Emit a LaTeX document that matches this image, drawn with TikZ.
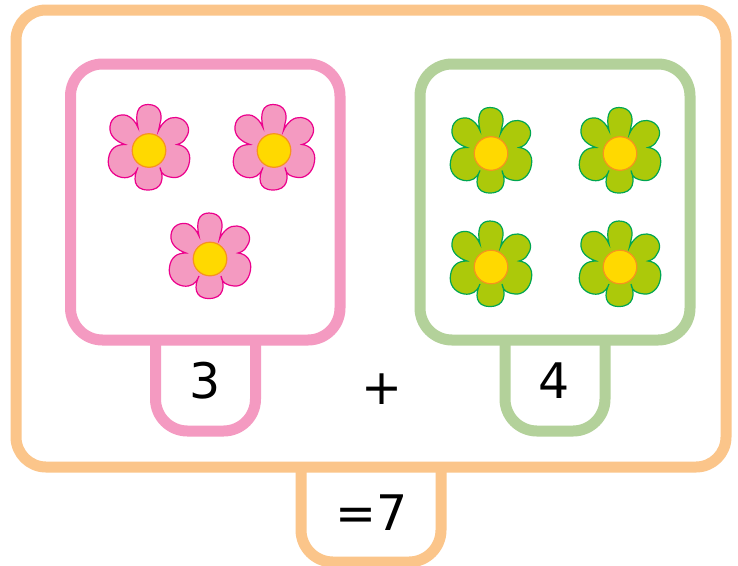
\documentclass[tikz,border=0pt]{standalone}
\usepackage{fontspec}
\setmainfont{DejaVu Sans}
\definecolor{orangeL}{HTML}{FBC58A}
\definecolor{pinkL}{HTML}{F49AC1}
\definecolor{pinkD}{HTML}{EC008C}
\definecolor{greenL}{HTML}{B3D19A}
\definecolor{leaf}{HTML}{ACC90A}
\definecolor{leafD}{HTML}{00A651}
\definecolor{sun}{HTML}{FFD900}
\definecolor{sunD}{HTML}{F7941D}
\tikzset{
  frame/.style={line width=11pt,line join=round},
  lbl/.style={font=\fontsize{49}{49}\selectfont,text=black,inner sep=0pt},
  pics/bloom/.style n args={2}{code={
    \draw[fill=#1,draw=#2,line width=1.2pt]
      (-11,-23) .. controls (-14,-36) and (-12,-46) .. (-1,-46)
      .. controls (11,-46) and (14,-36) .. (11,-27)
      .. controls (10.5,-24) and (10,-22) .. (9.5,-20)
      .. controls (13,-28) and (20,-34) .. (27,-33)
      .. controls (38,-32) and (43,-21) .. (37,-13)
      .. controls (35,-9) and (32,-7) .. (28,-6)
      .. controls (37,-5) and (42,2) .. (40.5,11)
      .. controls (39,22) and (31,28) .. (24,27)
      .. controls (16,26) and (12,24) .. (11,17)
      .. controls (15,27) and (14,39.5) .. (-1,39.5)
      .. controls (-16,39.5) and (-16,27) .. (-11,17)
      .. controls (-14,25) and (-19,28) .. (-27,27)
      .. controls (-37,25) and (-42,17) .. (-40.5,8)
      .. controls (-39,-2) and (-33,-6) .. (-24,-6)
      .. controls (-33,-9) and (-40,-15) .. (-39,-24)
      .. controls (-38,-34) and (-29,-37) .. (-22,-35)
      .. controls (-17,-33) and (-13,-28) .. (-11,-23) -- cycle;
    \draw[fill=sun,draw=sunD,line width=1.2pt] (0,0) circle[radius=16.8];
  }}
}
\begin{document}
\begin{tikzpicture}[x=1pt,y=-1pt]
\useasboundingbox (0,0) rectangle (738,565);
\fill[white] (0,0) rectangle (738,565);
% total tab and outer frame
\draw[frame,orangeL,rounded corners=32pt] (301,467) -- (301,562) -- (441,562) -- (441,467);
\draw[frame,orangeL,rounded corners=30pt] (16,10) rectangle (726,467);
% pink group
\draw[frame,pinkL,rounded corners=32pt] (155.5,340) -- (155.5,431) -- (255.5,431) -- (255.5,340);
\draw[frame,pinkL,rounded corners=32pt] (70.5,64) rectangle (340,340);
% green group
\draw[frame,greenL,rounded corners=32pt] (505,340) -- (505,431) -- (605,431) -- (605,340);
\draw[frame,greenL,rounded corners=32pt] (420,64) rectangle (690,340);
% flowers
\pic at (149,150.5) {bloom={pinkL}{pinkD}};
\pic at (274,150.5) {bloom={pinkL}{pinkD}};
\pic at (210,259) {bloom={pinkL}{pinkD}};
\pic at (491,153.5) {bloom={leaf}{leafD}};
\pic at (620,153.5) {bloom={leaf}{leafD}};
\pic at (491,267) {bloom={leaf}{leafD}};
\pic at (620,267) {bloom={leaf}{leafD}};
% labels
\node[lbl] (three) at (205.5,381) {3};
\node[lbl] (plus) at (382,389) {+};
\node[lbl] (four) at (554,381) {4};
\node[lbl] (sum) at (371.5,513) {=7};
\end{tikzpicture}
\end{document}
